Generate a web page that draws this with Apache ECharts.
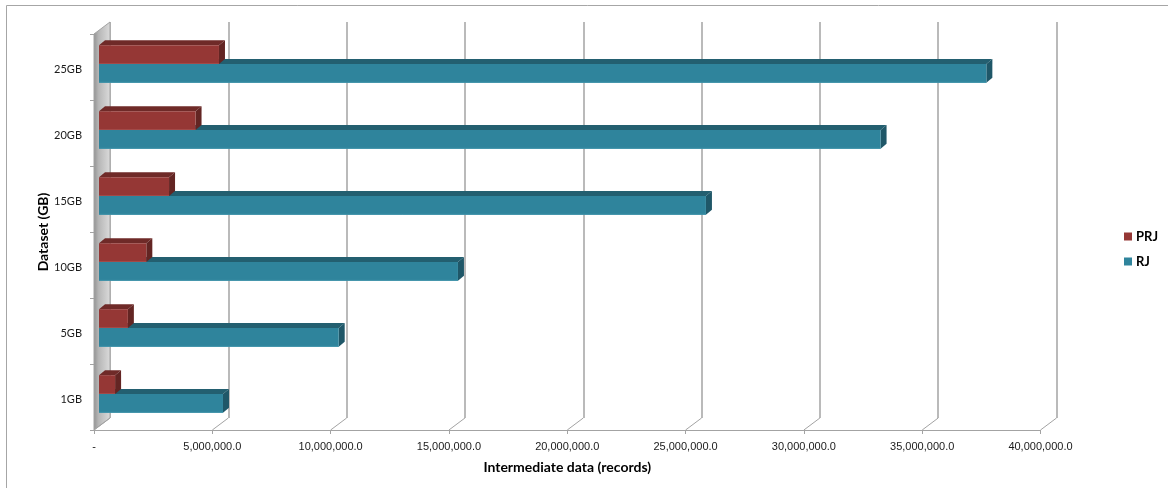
<!DOCTYPE html>
<html>
<head>
<meta charset="utf-8">
<style>html,body{margin:0;padding:0;background:#fff}#chart{width:1168px;height:488px}</style>
<script src="https://cdn.jsdelivr.net/npm/echarts@6/dist/echarts.min.js"></script>
</head>
<body>
<div id="chart"></div>
<script>
// Intermediate records produced per dataset size
const categories = ['1GB', '5GB', '10GB', '15GB', '20GB', '25GB'];
const rjValues = [5240000, 10130000, 15170000, 25650000, 33030000, 37500000];
const prjValues = [680000, 1220000, 2000000, 2960000, 4080000, 5070000];
const xTicks = [0, 5000000, 10000000, 15000000, 20000000, 25000000, 30000000, 35000000, 40000000];

// Oblique projection of the 3D box: the back plane sits up and to the right of the front plane
const WALL_DX = 16, WALL_DY = -12;
const BAR_INSET_X = 5, BAR_INSET_Y = -3;
const BAR_DX = 6, BAR_DY = -5;
const BAR_RATIO = 18.8 / 66;
const AXIS_GRAY = '#a3a3a3';

function barRenderer(slot, front, top, side, edge) {
  return function (params, api) {
    const end = api.coord([api.value(0), api.value(1)]);
    const start = api.coord([0, api.value(1)]);
    const h = api.size([0, 1])[1] * BAR_RATIO;
    const x0 = start[0] + BAR_INSET_X;
    const x1 = end[0] + BAR_INSET_X;
    const yt = start[1] + BAR_INSET_Y + (slot - 1) * h;
    const yb = yt + h;
    return {
      type: 'group',
      children: [
        { type: 'polygon', shape: { points: [[x0, yt], [x0 + BAR_DX, yt + BAR_DY], [x1 + BAR_DX, yt + BAR_DY], [x1, yt]] },
          style: { fill: top } },
        { type: 'polygon', shape: { points: [[x1, yt], [x1 + BAR_DX, yt + BAR_DY], [x1 + BAR_DX, yb + BAR_DY], [x1, yb]] },
          style: { fill: side } },
        { type: 'rect', shape: { x: x0, y: yt, width: x1 - x0, height: h },
          style: { fill: front } },
        { type: 'line', shape: { x1: x0, y1: yb - 0.5, x2: x1, y2: yb - 0.5 },
          style: { stroke: edge, lineWidth: 1 } }
      ]
    };
  };
}

function wallRenderer(params, api) {
  const cs = params.coordSys;
  const l = cs.x, b = cs.y + cs.height, t = cs.y;
  return {
    type: 'polygon',
    shape: { points: [[l, t], [l + WALL_DX, t + WALL_DY], [l + WALL_DX, b + WALL_DY], [l, b]] },
    style: {
      stroke: AXIS_GRAY, lineWidth: 1,
      fill: { type: 'linear', x: 0, y: 0, x2: 1, y2: 0, colorStops: [
        { offset: 0, color: '#909090' }, { offset: 0.3, color: '#b6b6b6' }, { offset: 1, color: '#dcdcdc' }
      ] }
    }
  };
}

function floorRenderer(params, api) {
  const p = api.coord([api.value(0), 0]);
  const b = params.coordSys.y + params.coordSys.height;
  return {
    type: 'line',
    shape: { x1: p[0], y1: b, x2: p[0] + WALL_DX, y2: b + WALL_DY },
    style: { stroke: AXIS_GRAY, lineWidth: 1 }
  };
}

const font = 'Lato, "Open Sans", sans-serif';

const option = {
  animation: false,
  backgroundColor: '#fff',
  graphic: [{ type: 'rect', shape: { x: 6.5, y: 5.5, width: 1300, height: 700 },
    style: { fill: 'transparent', stroke: '#a6a6a6', lineWidth: 1 }, silent: true, z: -10 }],
  legend: {
    data: ['PRJ', 'RJ'], orient: 'vertical', left: 1119, top: 225,
    itemWidth: 8, itemHeight: 8, itemGap: 12, icon: 'rect',
    textStyle: { fontFamily: font, fontWeight: 'bold', fontSize: 13, color: '#000', padding: [4, 0, 0, -1] }
  },
  grid: [
    { left: 94, top: 34, width: 946.5, height: 396 },
    { left: 94 + WALL_DX, top: 34 + WALL_DY, width: 946.5, height: 396 }
  ],
  xAxis: [
    { type: 'value', gridIndex: 0, min: 0, max: 40000000, interval: 5000000,
      name: 'Intermediate data (records)', nameLocation: 'middle', nameGap: 30,
      nameTextStyle: { fontFamily: font, fontWeight: 'bold', fontSize: 14, color: '#000' },
      axisLine: { show: true, lineStyle: { color: AXIS_GRAY, width: 1 } },
      axisTick: { show: true, length: 4, lineStyle: { color: AXIS_GRAY } },
      axisLabel: { margin: 11, fontFamily: '"Liberation Sans", sans-serif', fontSize: 11, color: '#1a1a1a',
        formatter: v => v === 0 ? '-' : v.toLocaleString('en-US') + '.0', showMinLabel: true, showMaxLabel: true, hideOverlap: false },
      splitLine: { show: false } },
    { type: 'value', gridIndex: 1, min: 0, max: 40000000, interval: 5000000,
      axisLine: { show: false }, axisTick: { show: false }, axisLabel: { show: false },
      splitLine: { show: true, lineStyle: { color: AXIS_GRAY, width: 1.5 } } }
  ],
  yAxis: [
    { type: 'category', gridIndex: 0, data: categories,
      name: 'Dataset (GB)', nameLocation: 'middle', nameGap: 44, nameRotate: 90, nameMoveOverlap: false,
      nameTextStyle: { fontFamily: font, fontWeight: 'bold', fontSize: 14, color: '#000' },
      axisLine: { show: true, lineStyle: { color: AXIS_GRAY } },
      axisTick: { show: true, length: 4, lineStyle: { color: AXIS_GRAY } },
      axisLabel: { margin: 12, fontFamily: font, fontSize: 11, color: '#1a1a1a', verticalAlign: 'top', lineHeight: 4 },
      splitLine: { show: false } },
    { type: 'category', gridIndex: 1, data: categories,
      axisLine: { show: false }, axisTick: { show: false }, axisLabel: { show: false }, splitLine: { show: false } }
  ],
  series: [
    { name: 'wall', type: 'custom', xAxisIndex: 0, yAxisIndex: 0, z: 1, silent: true, clip: false,
      data: [[0, 0]], renderItem: wallRenderer },
    { name: 'floor', type: 'custom', xAxisIndex: 0, yAxisIndex: 0, z: 1, silent: true, clip: false,
      data: xTicks.map(v => [v, 0]), renderItem: floorRenderer },
    { name: 'RJ', type: 'custom', xAxisIndex: 0, yAxisIndex: 0, z: 2, clip: false,
      itemStyle: { color: '#2f849c' },
      encode: { x: 0, y: 1 },
      data: rjValues.map((v, i) => [v, i]),
      renderItem: barRenderer(1, '#2f849c', '#235f70', '#1f5768', '#3f93aa') },
    { name: 'PRJ', type: 'custom', xAxisIndex: 0, yAxisIndex: 0, z: 3, clip: false,
      itemStyle: { color: '#953735' },
      encode: { x: 0, y: 1 },
      data: prjValues.map((v, i) => [v, i]),
      renderItem: barRenderer(0, '#953735', '#6f2a28', '#632523', '#a24a48') }
  ]
};

echarts.init(document.getElementById('chart')).setOption(option);
</script>
</body>
</html>
